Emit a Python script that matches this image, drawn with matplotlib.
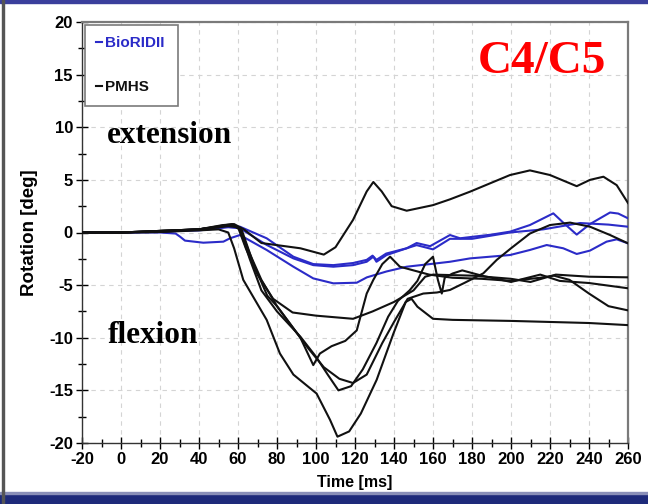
import matplotlib as mpl
mpl.use('Agg')
import matplotlib.pyplot as plt
from matplotlib.patches import Rectangle
from matplotlib.ticker import MultipleLocator

plt.rcParams['font.family'] = ['Liberation Sans', 'DejaVu Sans']
plt.rcParams['axes.unicode_minus'] = False

# C4/C5 rotation: BioRIDII dummy (blue) vs PMHS tests (black)
bio_t = [
    [-20, 0, 20, 40, 55, 61, 74.7, 88.4, 98.6, 108.9, 119, 126, 129, 131, 136, 146.5, 151.6, 158.5,
     168.7, 173.9, 180.7, 190, 199.5, 209.7, 221.7, 227, 233.7, 240.5, 250.8, 255, 260],
    [-20, 0, 20, 40, 55, 61, 74.7, 88.4, 98.6, 108.9, 119, 126, 129.4, 131, 136.2, 146.5, 151.6, 160,
     168.7, 180, 199.5, 216.6, 235.4, 250, 260],
    [-20, 0, 20, 28, 30.3, 32.8, 42.2, 52.5, 55.9, 61, 74.7, 88.4, 98.6, 108.9, 120.9, 126.1, 136.2,
     146.5, 158.5, 168.7, 179, 199.5, 209.7, 218.3, 226.8, 233.7, 240.5, 249, 254.2, 260],
]
bio_rot = [
    [0, 0, 0.1, 0.3, 0.6, 0.55, -0.55, -2.3, -3.0, -3.1, -2.9, -2.6, -2.2, -2.6, -2.0, -1.5, -1.0, -1.3,
     -0.24, -0.55, -0.4, -0.2, 0.08, 0.71, 1.82, 0.9, -0.2, 0.8, 1.9, 1.8, 1.35],
    [0, 0, 0.1, 0.2, 0.5, 0.4, -1.18, -2.46, -3.1, -3.25, -3.1, -2.78, -2.3, -2.78, -2.14, -1.5, -1.2, -1.6,
     -0.6, -0.6, 0.0, 0.3, 0.9, 0.75, 0.55],
    [0, 0, 0.0, -0.1, -0.4, -0.77, -0.97, -0.87, -0.55, -0.24, -1.66, -3.25, -4.36, -4.83, -4.77, -4.26, -3.7,
     -3.25, -3.0, -2.78, -2.46, -2.14, -1.66, -1.19, -1.5, -2.04, -1.72, -0.87, -0.65, -1.03],
]

pmhs_t = [
    [-20, 0, 20, 40, 52, 58, 63, 72, 92, 104, 110, 119, 126, 129.4, 133.7, 138.8, 146.5, 160, 168.7,
     179, 199.5, 209.7, 220, 233.7, 240.5, 247.4, 254.2, 260],
    [-20, 0, 20, 40, 50, 55, 58, 62.7, 74.7, 81.5, 88.4, 100.3, 107.2, 111, 117, 123, 131.1, 139.7,
     146, 149, 152, 160, 170, 200, 240, 260],
    [-20, 0, 40, 55, 60, 64, 70, 78, 88, 100, 119, 129, 140, 150, 156, 160, 180, 200, 210, 223, 240, 260],
    [-20, 0, 40, 57, 62, 68, 75, 80, 92, 98.6, 102, 108, 115, 120.9, 126, 129.4, 134, 138, 143, 150, 158,
     170, 185, 200, 215, 222, 230, 240, 250, 260],
    [-20, 0, 40, 57, 61, 66, 72, 80, 92, 100, 106, 111.5, 118, 124, 131, 137, 142, 148, 152, 156, 160,
     162.5, 164.5, 166, 170, 175, 185, 200, 215, 225, 240, 260],
    [-20, 0, 40, 56, 61, 66, 72, 80, 88, 96, 104, 112, 119, 126, 134, 140, 147, 155, 162, 168.7, 176,
     185.8, 192.7, 200, 209.7, 220, 230.3, 240.5, 250.8, 260],
]
pmhs_rot = [
    [0, 0, 0.05, 0.3, 0.7, 0.8, 0.3, -1.0, -1.5, -2.1, -1.4, 1.2, 3.9, 4.8, 3.9, 2.5, 2.07, 2.6, 3.15,
     3.88, 5.46, 5.9, 5.46, 4.4, 5.0, 5.3, 4.5, 2.8],
    [0, 0, 0.05, 0.2, 0.3, 0.0, -1.5, -4.5, -8.3, -11.5, -13.5, -15.3, -17.8, -19.4, -18.9, -17.2, -14.0,
     -9.6, -6.6, -6.3, -7.05, -8.2, -8.3, -8.4, -8.6, -8.8],
    [0, 0, 0.3, 0.6, 0.5, -1.5, -4.0, -6.3, -7.6, -7.9, -8.2, -7.5, -6.6, -5.5, -4.2, -4.0, -4.1, -4.4,
     -4.7, -4.0, -4.2, -4.26],
    [0, 0, 0.3, 0.8, 0.2, -3.0, -6.0, -7.0, -10.0, -12.6, -11.5, -10.8, -10.3, -9.3, -5.8, -4.5, -3.0,
     -2.3, -3.25, -3.6, -4.0, -4.3, -4.4, -4.6, -4.3, -4.1, -4.5, -5.8, -7.0, -7.4],
    [0, 0, 0.3, 0.7, 0.3, -2.5, -5.5, -7.5, -9.9, -11.8, -13.5, -15.0, -14.6, -13.0, -10.5, -8.0, -6.5,
     -5.5, -4.6, -3.0, -2.3, -4.5, -5.8, -4.3, -3.9, -3.6, -4.1, -4.7, -4.0, -4.6, -4.8, -5.3],
    [0, 0, 0.3, 0.7, 0.4, -2.0, -4.5, -7.0, -9.0, -11.0, -12.8, -13.9, -14.3, -13.5, -10.5, -8.5, -6.3,
     -5.8, -5.7, -5.46, -4.8, -3.88, -2.6, -1.5, -0.1, 0.71, 0.94, 0.55, -0.24, -1.03],
]

x_ticks = list(range(-20, 261, 20))
y_ticks = list(range(-20, 21, 5))

blue = '#2b2bc8'
fig = plt.figure(figsize=(6.48, 5.04), dpi=100)

# slide frame around the chart, kept behind everything else
fig.patches.append(Rectangle((0, 1 - 3 / 504), 1, 3 / 504, transform=fig.transFigure,
                             color='#3a3f9c', zorder=-5))
fig.patches.append(Rectangle((0, 0), 1, 10 / 504, transform=fig.transFigure,
                             color='#1e2a7a', zorder=-5))
fig.patches.append(Rectangle((0, 10 / 504), 1, 2 / 504, transform=fig.transFigure,
                             color='#8a8fb8', zorder=-5))
fig.patches.append(Rectangle((2 / 648, 0), 1.5 / 648, 1, transform=fig.transFigure,
                             color='#555555', zorder=-5))

ax = fig.add_axes([82 / 648, 1 - 443 / 504, 546 / 648, 421 / 504])

for i, (t, r) in enumerate(zip(bio_t, bio_rot)):
    ax.plot(t, r, color=blue, lw=1.5, label='BioRIDII' if i == 0 else None, zorder=3)
for i, (t, r) in enumerate(zip(pmhs_t, pmhs_rot)):
    ax.plot(t, r, color='#111111', lw=1.5, label='PMHS' if i == 0 else None, zorder=3)

ax.set_xlim(-20, 260)
ax.set_ylim(-20, 20)
ax.set_xticks(x_ticks)
ax.set_yticks(y_ticks)
ax.xaxis.set_minor_locator(MultipleLocator(10))
ax.yaxis.set_minor_locator(MultipleLocator(2.5))
ax.tick_params(which='major', direction='inout', length=9, width=1, labelsize=12, pad=2)
ax.tick_params(which='minor', direction='inout', length=6, width=1)
for lab in ax.get_xticklabels() + ax.get_yticklabels():
    lab.set_fontweight('bold')
ax.grid(True, which='major', ls=(0, (4, 4)), color='#d4d4d4', lw=0.8)

for side in ['top', 'right']:
    ax.spines[side].set_color('#7a7a7a')
    ax.spines[side].set_linewidth(1.6)
for side in ['left', 'bottom']:
    ax.spines[side].set_color('#333333')
    ax.spines[side].set_linewidth(1.0)

ax.set_xlabel('Time [ms]', fontsize=11.5, fontweight='bold', labelpad=5.5)
ax.set_ylabel('Rotation [deg]', fontsize=13.5, fontweight='bold', labelpad=8)

leg = ax.legend(loc='upper left', bbox_to_anchor=(0.005, 0.993, 0.17, 0.0), mode='expand',
                borderaxespad=0, handlelength=0.4, handletextpad=0.15, labelspacing=1.95,
                borderpad=0.75, fancybox=False, framealpha=1, edgecolor='#7a7a7a',
                prop={'weight': 'bold', 'size': 11}, labelcolor='linecolor')
leg.get_frame().set_linewidth(1.2)

serif = ['Liberation Serif', 'DejaVu Serif']
ax.text(-7, 9.2, 'extension', fontsize=22.5, fontweight='bold', family=serif, va='center')
ax.text(-7, -9.8, 'flexion', fontsize=22.5, fontweight='bold', family=serif, va='center')
ax.text(249, 16.2, 'C4/C5', fontsize=34, fontweight='bold', family=serif, color='red',
        ha='right', va='center')

fig.savefig('out.png', dpi=100)
